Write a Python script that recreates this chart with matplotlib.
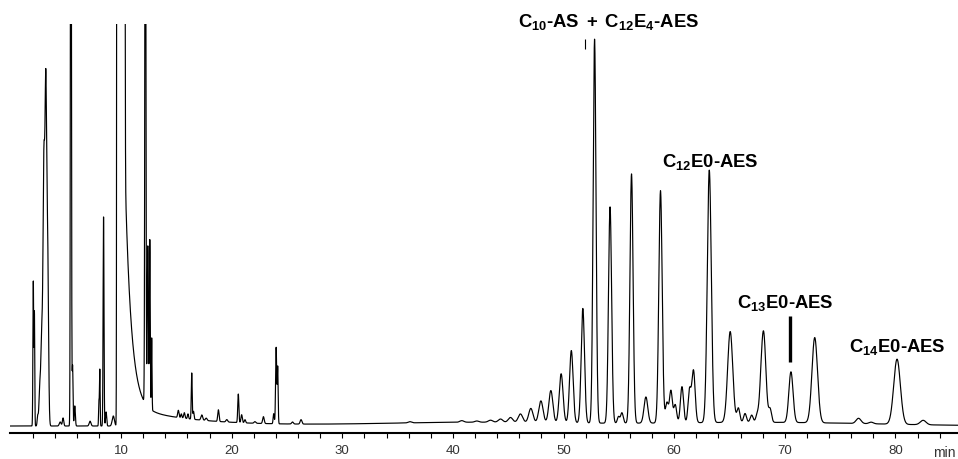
import numpy as np
import matplotlib.pyplot as plt

plt.rcParams['mathtext.fontset'] = 'custom'
plt.rcParams['mathtext.rm'] = 'Liberation Sans:bold'
plt.rcParams['mathtext.it'] = 'Liberation Sans:bold'
plt.rcParams['mathtext.bf'] = 'Liberation Sans:bold'

# peak table: retention time (min), apex height, width (sigma, min)
peak_rt = [2.07, 2.17, 2.47, 2.65, 2.83, 3.03, 3.2, 3.36, 4.5, 4.76,
           5.47, 5.62, 5.82, 7.2, 8.0, 8.08, 8.42, 8.65, 9.3,
           9.65, 9.8, 10.0, 10.15, 10.3,
           12.2, 12.42, 12.6, 12.77,
           15.18, 15.45, 15.72, 16.05, 16.39, 16.55, 17.3, 17.7, 18.8, 19.56,
           20.6, 20.9, 21.2, 22.1, 22.87, 23.8, 24.02, 24.16, 25.5, 26.27,
           36.1, 40.8, 42.16, 43.4, 44.3, 45.2, 46.1, 47.04, 47.95, 48.85,
           49.78, 50.7, 51.74, 52.8, 54.2, 54.96, 55.27, 56.14, 57.44, 58.76,
           59.34, 59.7, 60.09, 60.7, 61.38, 61.74, 63.17, 65.06, 65.8, 66.4,
           67.0, 67.5, 67.8, 68.07, 68.67, 70.55, 72.7, 76.66, 77.8, 80.14, 82.5]
peak_h = [36, 28, 2.5, 9, 22, 65, 76, 45, 1.0, 2.0,
          220, 15, 5, 1.2, 6, 14, 52, 3.5, 2.5,
          400, 400, 400, 400, 300,
          180, 40, 42, 18,
          1.8, 1.0, 1.4, 1.2, 11.5, 2.0, 1.3, 0.6, 2.9, 0.6,
          7.1, 2.0, 0.8, 0.4, 1.7, 2.5, 19, 14, 0.5, 1.1,
          0.3, 0.4, 0.3, 0.5, 0.8, 1.2, 2.1, 3.5, 5.4, 8.0,
          12.2, 18, 28.5, 95.5, 53.8, 1.6, 2.6, 62, 6.5, 57.8,
          5, 8, 4.5, 9, 8, 13, 62.8, 22.6, 3.5, 2.2,
          1.8, 1.8, 2.2, 22.5, 3.2, 12.6, 21.2, 1.3, 0.4, 16.2, 1.1]
peak_w = [0.035, 0.03, 0.05, 0.07, 0.08, 0.08, 0.07, 0.08, 0.08, 0.06,
          0.04, 0.04, 0.05, 0.08, 0.03, 0.03, 0.04, 0.05, 0.1,
          0.03, 0.06, 0.06, 0.05, 0.04,
          0.045, 0.05, 0.04, 0.03,
          0.06, 0.05, 0.06, 0.05, 0.04, 0.05, 0.08, 0.08, 0.06, 0.08,
          0.05, 0.06, 0.06, 0.08, 0.07, 0.05, 0.05, 0.04, 0.08, 0.08,
          0.15, 0.18, 0.18, 0.2, 0.2, 0.2, 0.2, 0.19, 0.19, 0.18,
          0.17, 0.16, 0.15, 0.13, 0.14, 0.1, 0.12, 0.14, 0.17, 0.15,
          0.13, 0.13, 0.13, 0.14, 0.13, 0.15, 0.18, 0.23, 0.13, 0.13,
          0.13, 0.13, 0.13, 0.21, 0.13, 0.19, 0.25, 0.22, 0.2, 0.3, 0.26]

# solvent front tailing: start (min), amplitude, decay (min)
tail_start = [10.3, 10.3]
tail_amp = [65, 5]
tail_tau = [0.55, 5.6]

# slow baseline drift in the second half of the run
drift_rt = [42, 68]
drift_h = [0.9, 0.9]
drift_w = [9, 10]

# short marks drawn above some peaks: time, bottom, top
mark_t = [51.95, 70.42]
mark_lo = [93.8, 15.9]
mark_hi = [96.3, 27.4]
mark_lw = [0.8, 2.4]

labels = [r'C$_{10}$-AS $\,$+$\,$ C$_{12}$E$_{4}$-AES', r'C$_{12}$E0-AES',
          r'C$_{13}$E0-AES', r'C$_{14}$E0-AES']
label_t = [54.1, 63.25, 70.04, 80.12]
label_y = [99.4, 64.7, 29.6, 18.7]

t = np.arange(0, 85.7, 0.004)
signal = np.zeros_like(t)
for r, h, w in zip(peak_rt, peak_h, peak_w):
    signal += h * np.exp(-0.5 * ((t - r) / w) ** 2)
for s, a, tau in zip(tail_start, tail_amp, tail_tau):
    signal += np.where(t >= s, a * np.exp(-(t - s) / tau), 0.0)
for r, h, w in zip(drift_rt, drift_h, drift_w):
    signal += h * np.exp(-0.5 * ((t - r) / w) ** 2)

fig = plt.figure(figsize=(9.58, 4.6), dpi=100)
ax = fig.add_axes([10.4 / 958, 26 / 460, 947.6 / 958, 409 / 460])
ax.plot(t, signal, color='black', lw=0.85)
for mt, lo, hi, lw in zip(mark_t, mark_lo, mark_hi, mark_lw):
    ax.plot([mt, mt], [lo, hi], color='black', lw=lw, solid_capstyle='butt')

for s, x, y in zip(labels, label_t, label_y):
    ax.text(x, y, s, ha='center', va='baseline', fontsize=13.3,
            family='Liberation Sans', fontweight='bold', clip_on=False)

ax.set_xlim(0, 85.65)
ax.set_ylim(-1.74, 100)
for side in ['left', 'right', 'top']:
    ax.spines[side].set_visible(False)
ax.spines['bottom'].set_linewidth(1.5)
ax.set_yticks([])
ax.set_xticks(np.arange(10, 81, 10))
ax.set_xticks(np.arange(2, 85, 2), minor=True)
ax.tick_params(axis='x', which='both', direction='out', length=3.6, width=0.8,
               colors='black', pad=4.5)
ax.tick_params(axis='x', labelsize=9.5, labelcolor='#333333')
for lab in ax.get_xticklabels():
    lab.set_family('Liberation Sans')
fig.text(956 / 958, 2.5 / 460, 'min', fontsize=10, color='#333333',
         family='Liberation Sans', va='baseline', ha='right')

fig.savefig('out.png', dpi=100)
